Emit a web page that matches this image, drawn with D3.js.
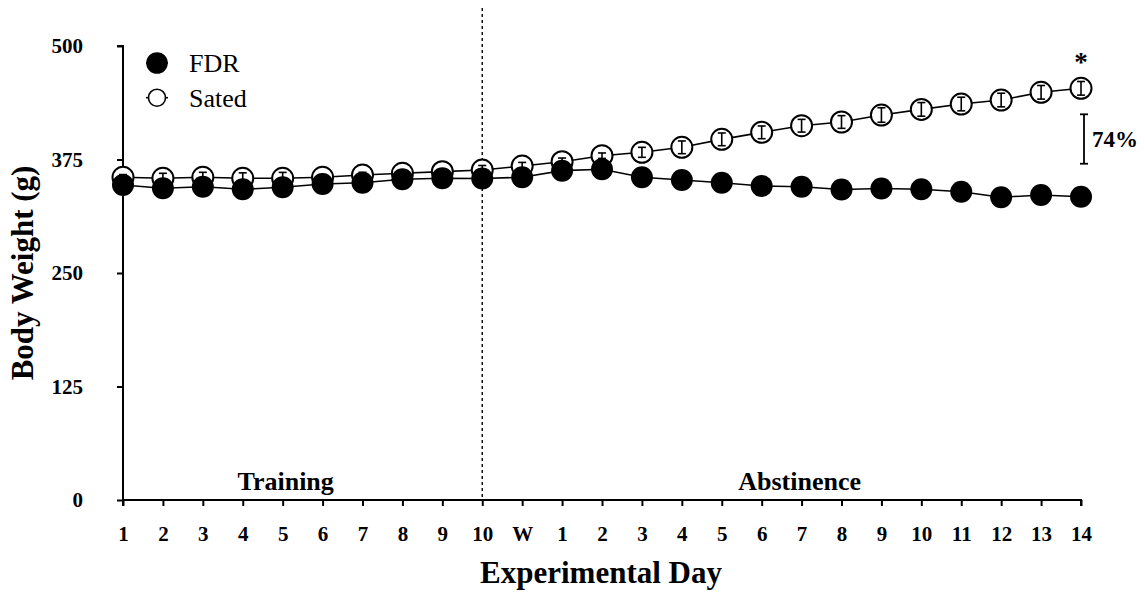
<!DOCTYPE html>
<html>
<head>
<meta charset="utf-8">
<script src="https://cdn.jsdelivr.net/npm/d3@7"></script>
<style>
  body { margin: 0; background: #fff; }
  text { font-family: "Liberation Serif", "Times New Roman", serif; }
</style>
</head>
<body>
<script>
// Define SVG area dimensions
var svgWidth = 1145;
var svgHeight = 592;

// Category labels along the x axis (training days, W, abstinence days)
var dayLabels = ["1", "2", "3", "4", "5", "6", "7", "8", "9", "10", "W",
    "1", "2", "3", "4", "5", "6", "7", "8", "9", "10", "11", "12", "13", "14"];

// Body weight (g)
var fdrValues = [346.9, 343.3, 345.0, 342.2, 344.4, 348.0, 349.4, 353.2, 354.3, 354.1, 355.4,
    362.7, 364.2, 355.4, 352.4, 349.4, 345.8, 345.0, 342.0, 343.1, 342.2, 339.5, 333.4, 335.9, 334.0];
var fdrErrors = [3, 3, 3, 3, 3, 3, 3, 3, 3, 3, 3, 3, 3, 3, 3, 3, 3, 3, 3, 3, 3, 3, 3, 3, 3];

var satedValues = [355.4, 354.3, 355.4, 354.3, 354.3, 355.4, 357.9, 359.8, 361.6, 363.4, 367.8,
    372.6, 379.2, 382.9, 388.4, 397.2, 404.9, 412.2, 416.3, 424.0, 430.2, 436.1, 440.5, 449.0, 453.4];
var satedErrors = [3, 5.5, 5.5, 6, 6.5, 3, 3, 3, 3, 5, 4, 4, 3, 5.5, 7, 7, 7, 7, 7, 8, 7.5, 7.5, 7.5, 7.5, 7.5];

var yTicks = [0, 125, 250, 375, 500];

// Plot area
var chartMargin = { top: 46, right: 62, bottom: 92, left: 123 };
var chartWidth = svgWidth - chartMargin.left - chartMargin.right;
var chartHeight = svgHeight - chartMargin.top - chartMargin.bottom;

var svg = d3.select("body")
    .append("svg")
    .attr("width", svgWidth)
    .attr("height", svgHeight);

var chartGroup = svg.append("g")
    .attr("transform", `translate(${chartMargin.left}, ${chartMargin.top})`);

var idx = dayLabels.map((d, i) => i);

var xScale = d3.scalePoint()
    .domain(idx)
    .range([0, chartWidth - 2]);

var yScale = d3.scaleLinear()
    .domain([0, 500])
    .range([chartHeight, 0]);

// dotted divider between training and abstinence
chartGroup.append("line")
    .attr("x1", xScale(9))
    .attr("x2", xScale(9))
    .attr("y1", -38)
    .attr("y2", chartHeight)
    .attr("stroke", "#000")
    .attr("stroke-width", 1.4)
    .attr("stroke-dasharray", "3,3");

// axes
var xAxis = d3.axisBottom(xScale)
    .tickSize(6)
    .tickPadding(20)
    .tickFormat(i => dayLabels[i]);
var yAxis = d3.axisLeft(yScale)
    .tickValues(yTicks)
    .tickSize(6)
    .tickPadding(34);

var gx = chartGroup.append("g")
    .attr("transform", `translate(0, ${chartHeight})`)
    .call(xAxis);
var gy = chartGroup.append("g")
    .call(yAxis);

[gx, gy].forEach(function (g) {
    g.select(".domain").attr("stroke-width", 2);
    g.selectAll(".tick line").attr("stroke-width", 2);
    g.selectAll("text")
        .attr("font-family", "Liberation Serif, serif")
        .attr("font-weight", "bold")
        .attr("font-size", 21)
        .attr("fill", "#000");
});
gx.select(".domain").attr("d", `M0,6V0H${xScale(24)}V6`);
gy.select(".domain").attr("d", `M-6,0H0V${chartHeight}`);

// lines
var line = d3.line()
    .x((d, i) => xScale(i))
    .y(d => yScale(d));

chartGroup.append("path")
    .datum(satedValues)
    .attr("d", line)
    .attr("fill", "none")
    .attr("stroke", "#000")
    .attr("stroke-width", 1.6);

chartGroup.append("path")
    .datum(fdrValues)
    .attr("d", line)
    .attr("fill", "none")
    .attr("stroke", "#000")
    .attr("stroke-width", 1.6);

// sated circles
chartGroup.selectAll(".sated")
    .data(satedValues)
    .enter()
    .append("circle")
    .attr("class", "sated")
    .attr("cx", (d, i) => xScale(i))
    .attr("cy", d => yScale(d))
    .attr("r", 10.5)
    .attr("fill", "#fff")
    .attr("stroke", "#000")
    .attr("stroke-width", 2);

// error bars (drawn over the open circles)
function errorBars(values, errors, cls) {
    var g = chartGroup.selectAll("." + cls)
        .data(values)
        .enter()
        .append("g")
        .attr("class", cls)
        .attr("stroke", "#000")
        .attr("stroke-width", 1.6);
    g.append("line")
        .attr("x1", (d, i) => xScale(i))
        .attr("x2", (d, i) => xScale(i))
        .attr("y1", (d, i) => yScale(d + errors[i]))
        .attr("y2", (d, i) => yScale(d - errors[i]));
    g.append("line")
        .attr("x1", (d, i) => xScale(i) - 4)
        .attr("x2", (d, i) => xScale(i) + 4)
        .attr("y1", (d, i) => yScale(d + errors[i]))
        .attr("y2", (d, i) => yScale(d + errors[i]));
    g.append("line")
        .attr("x1", (d, i) => xScale(i) - 4)
        .attr("x2", (d, i) => xScale(i) + 4)
        .attr("y1", (d, i) => yScale(d - errors[i]))
        .attr("y2", (d, i) => yScale(d - errors[i]));
}
errorBars(satedValues, satedErrors, "sated-err");

// FDR filled circles on top
chartGroup.selectAll(".fdr")
    .data(fdrValues)
    .enter()
    .append("circle")
    .attr("class", "fdr")
    .attr("cx", (d, i) => xScale(i))
    .attr("cy", d => yScale(d))
    .attr("r", 11)
    .attr("fill", "#000");
errorBars(fdrValues, fdrErrors, "fdr-err");

// phase labels
chartGroup.append("text")
    .attr("x", xScale(4) + 3)
    .attr("y", chartHeight - 10)
    .attr("text-anchor", "middle")
    .attr("font-weight", "bold")
    .attr("font-size", 26)
    .text("Training");
chartGroup.append("text")
    .attr("x", xScale(17) - 2)
    .attr("y", chartHeight - 10)
    .attr("text-anchor", "middle")
    .attr("font-weight", "bold")
    .attr("font-size", 26)
    .text("Abstinence");

// significance marker and difference bracket at the last day
var last = 24;
chartGroup.append("text")
    .attr("x", xScale(last))
    .attr("y", yScale(satedValues[last]) - 17)
    .attr("text-anchor", "middle")
    .attr("font-weight", "bold")
    .attr("font-size", 27)
    .text("*");

var bx = xScale(last) + 3;
var bTop = yScale(satedValues[last]) + 26;
var bBot = yScale(fdrValues[last]) - 33;
var bracket = chartGroup.append("g")
    .attr("stroke", "#000")
    .attr("stroke-width", 1.8);
bracket.append("line").attr("x1", bx).attr("x2", bx).attr("y1", bTop).attr("y2", bBot);
bracket.append("line").attr("x1", bx - 4).attr("x2", bx + 4).attr("y1", bTop).attr("y2", bTop);
bracket.append("line").attr("x1", bx - 4).attr("x2", bx + 4).attr("y1", bBot).attr("y2", bBot);
chartGroup.append("text")
    .attr("x", bx + 8)
    .attr("y", (bTop + bBot) / 2 + 8)
    .attr("font-weight", "bold")
    .attr("font-size", 23)
    .text("74%");

// legend
var legend = svg.append("g")
    .attr("transform", "translate(157, 63)");
var legendItems = [
    { name: "FDR", fill: "#000", r: 10 },
    { name: "Sated", fill: "#fff", r: 8.5 }
];
legendItems.forEach(function (item, i) {
    var row = legend.append("g").attr("transform", `translate(0, ${i * 34.7})`);
    row.append("line")
        .attr("x1", -11).attr("x2", 11)
        .attr("stroke", "#000").attr("stroke-width", 1.6);
    row.append("circle")
        .attr("r", item.r)
        .attr("fill", item.fill)
        .attr("stroke", "#000")
        .attr("stroke-width", 1.6);
    row.append("text")
        .attr("x", 32)
        .attr("y", 9)
        .attr("font-size", 26)
        .text(item.name);
});

// axis titles
svg.append("text")
    .attr("x", 601)
    .attr("y", 583)
    .attr("text-anchor", "middle")
    .attr("font-weight", "bold")
    .attr("font-size", 31)
    .text("Experimental Day");

svg.append("text")
    .attr("transform", `translate(33, ${chartMargin.top + chartHeight / 2}) rotate(-90)`)
    .attr("text-anchor", "middle")
    .attr("font-weight", "bold")
    .attr("font-size", 31)
    .text("Body Weight (g)");
</script>
</body>
</html>
